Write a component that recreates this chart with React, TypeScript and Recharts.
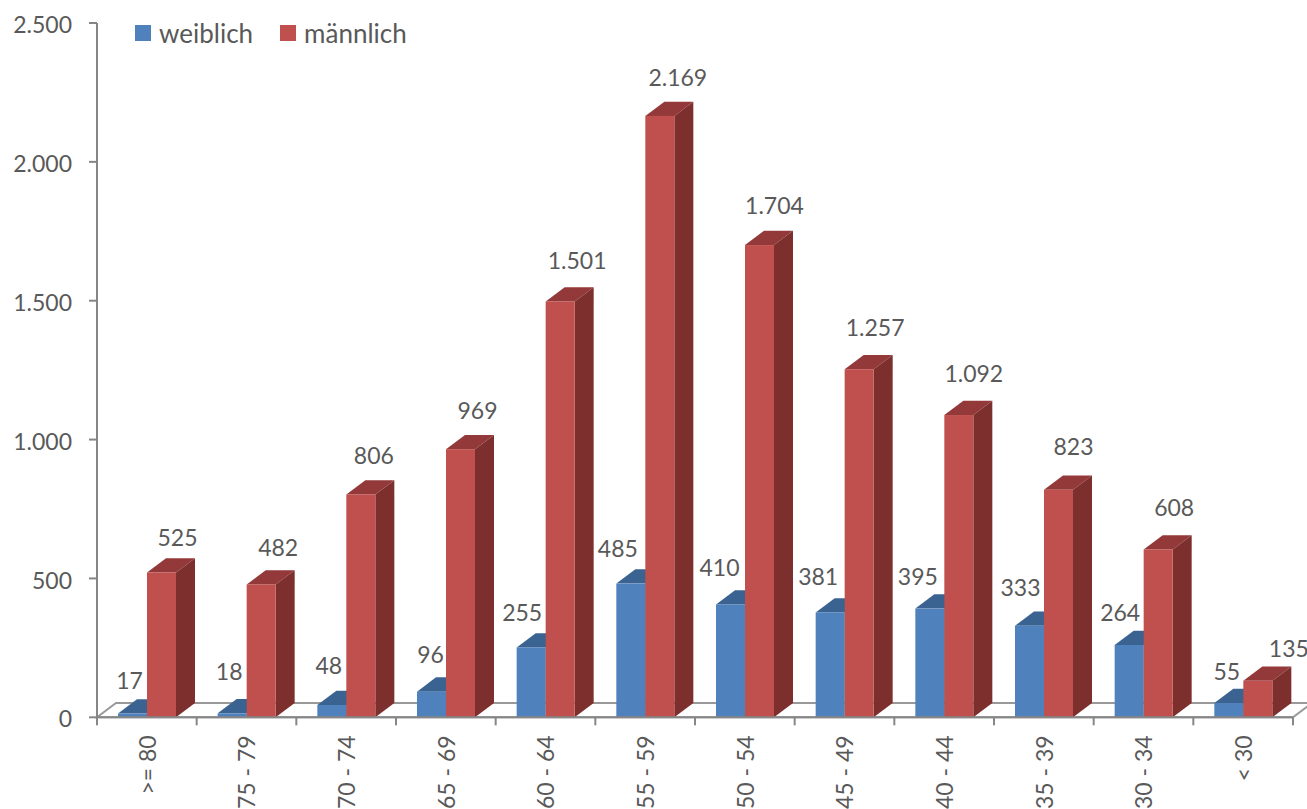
import { BarChart, Bar, XAxis, YAxis, Legend, ReferenceLine } from 'recharts'

const categories = ['>= 80', '75 - 79', '70 - 74', '65 - 69', '60 - 64', '55 - 59', '50 - 54', '45 - 49', '40 - 44', '35 - 39', '30 - 34', '< 30']
const weiblich = [17, 18, 48, 96, 255, 485, 410, 381, 395, 333, 264, 55]
const maennlich = [525, 482, 806, 969, 1501, 2169, 1704, 1257, 1092, 823, 608, 135]
const yTicks = [0, 500, 1000, 1500, 2000, 2500]

// label nudges relative to the bar top centre, the original has them hand placed
const weiblichNudge = [[-3, -33], [-3, -41], [-3, -39], [-1, -37], [-9, -34], [-13, -35], [-11, -36], [-12, -35], [-12, -32], [-9, -38], [-9, -32], [-2, -31]]
const maennlichNudge = [[16, -34], [17, -36], [13, -38], [17, -38], [17, -40], [18, -38], [15, -39], [16, -41], [15, -41], [15, -43], [16, -41], [31, -32]]

const chartData = categories.map((name, i) => ({ name, weiblich: weiblich[i], maennlich: maennlich[i] }))

const FONT = 'Lato, sans-serif'
const TEXT = '#595959'
const AXIS = '#868686'
const DX = 19
const DY = 14.3
const HALF_BAND = 49.83

const fmt = (v: number) => String(v).replace(/\B(?=(\d{3})+(?!\d))/g, '.')

const bar3d = (top: string, side: string) => (p: any) => {
  const { x, width, height, fill } = p
  // front face sits a pixel lower than the value in the original's 3d projection
  const y = p.y + 1
  const r = x + width
  const b = p.y + height
  return (
    <g>
      <path d={`M${x},${y} L${x + DX},${y - DY} L${r + DX},${y - DY} L${r},${y} Z`} fill={top} />
      <path d={`M${r},${y} L${r + DX},${y - DY} L${r + DX},${b - DY} L${r},${b} Z`} fill={side} />
      <rect x={x} y={y} width={width} height={Math.max(b - y, 0)} fill={fill} />
    </g>
  )
}

const barLabel = (nudge: number[][]) => (p: any) => {
  const { x, y, width, index, value } = p
  const [dx, dy] = nudge[index]
  return (
    <text x={x + width / 2 + dx} y={y + dy} textAnchor="middle" dominantBaseline="central" fontSize={23} fontFamily={FONT} fill={TEXT}>
      {fmt(value)}
    </text>
  )
}

const Floor = (p: any) => {
  const { x1, x2, y1 } = p
  return (
    <path
      d={`M${x1},${y1} L${x1 + DX},${y1 - DY} L${x2 + DX},${y1 - DY} L${x2},${y1} Z`}
      fill="#fff"
      stroke="#999"
      strokeWidth={2}
    />
  )
}

const CategoryTick = (p: any) => {
  const { x, y, index, payload } = p
  const axisY = y - 18
  return (
    <g>
      <line x1={x - HALF_BAND} x2={x - HALF_BAND} y1={axisY} y2={axisY + 8} stroke={AXIS} strokeWidth={2} />
      {index === categories.length - 1 && (
        <line x1={x + HALF_BAND} x2={x + HALF_BAND} y1={axisY} y2={axisY + 8} stroke={AXIS} strokeWidth={2} />
      )}
      <text
        x={x}
        y={y}
        transform={`rotate(-90 ${x} ${y})`}
        textAnchor="end"
        dominantBaseline="central"
        fontSize={23}
        fontFamily={FONT}
        fill={TEXT}
      >
        {payload.value}
      </text>
    </g>
  )
}

const LegendBox = ({ payload }: any) => (
  <div style={{ display: 'flex', fontFamily: FONT, fontSize: 26, color: TEXT, lineHeight: '16px' }}>
    {(payload || []).map((e: any) => (
      <div key={e.value} style={{ display: 'flex', alignItems: 'center', marginRight: 27 }}>
        <span style={{ width: 16, height: 16, background: e.color, marginRight: 8 }} />
        <span>{e.value}</span>
      </div>
    ))}
  </div>
)

export default function App() {
  return (
    <div style={{ position: 'absolute', left: 0, top: 0, width: 1307, height: 809, overflow: 'hidden', background: '#fff' }}>
      <BarChart
        width={1307}
        height={809}
        data={chartData}
        margin={{ top: 23, right: 14, left: 0, bottom: 0 }}
        barSize={29}
        barGap={0}
      >
        <ReferenceLine y={0} ifOverflow="visible" shape={Floor} zIndex={-1} />
        <XAxis
          dataKey="name"
          height={91.7}
          interval={0}
          tickLine={false}
          tickMargin={10}
          tickSize={8}
          axisLine={{ stroke: AXIS, strokeWidth: 2 }}
          tick={CategoryTick}
        />
        <YAxis
          width={97}
          domain={[0, 2500]}
          ticks={yTicks}
          tickFormatter={fmt}
          tickSize={8}
          tickMargin={17}
          tickLine={{ stroke: AXIS, strokeWidth: 2 }}
          axisLine={{ stroke: AXIS, strokeWidth: 2 }}
          tick={{ fill: TEXT, fontSize: 23, fontFamily: FONT, dy: 2 }}
        />
        <Legend content={LegendBox} itemSorter={null} layout="horizontal" verticalAlign="middle" align="center" wrapperStyle={{ left: 135, top: 25, width: 320 }} />
        <Bar dataKey="weiblich" name="weiblich" fill="#4f81bd" isAnimationActive={false} shape={bar3d('#3a6391', '#335a85')} label={barLabel(weiblichNudge)} />
        <Bar dataKey="maennlich" name="männlich" fill="#c0504d" isAnimationActive={false} shape={bar3d('#93393a', '#7d2f2e')} label={barLabel(maennlichNudge)} />
      </BarChart>
    </div>
  )
}
